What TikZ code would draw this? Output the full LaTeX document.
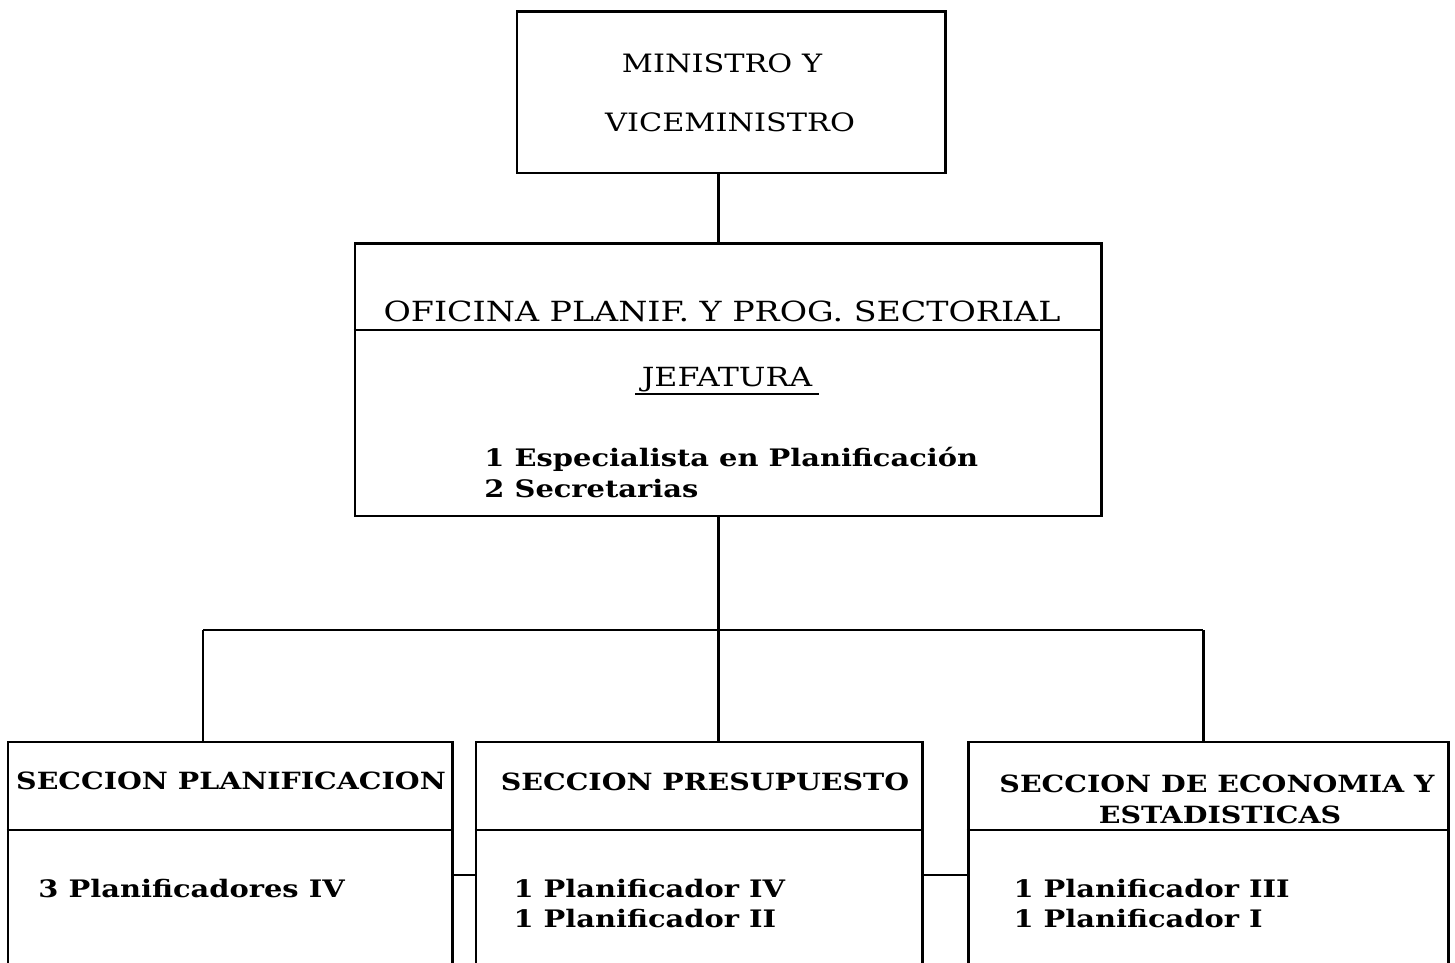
\documentclass[tikz,border=0pt]{standalone}
\usepackage{fontspec}
\setmainfont{DejaVu Serif}[FakeStretch=1.2]
\usepackage{tikz}

\begin{document}
\begin{tikzpicture}[x=0.2mm,y=-0.2mm,line width=1.7pt,
    box/.style={draw,rectangle,inner sep=0pt},
    hdr/.style={anchor=base,inner sep=0pt,font=\fontsize{15.8pt}{19pt}\selectfont},
    shdr/.style={anchor=base,inner sep=0pt,font=\bfseries\fontsize{13.5pt}{17pt}\selectfont},
    txt/.style={anchor=base west,inner sep=0pt,font=\bfseries\fontsize{13.7pt}{16pt}\selectfont}]
        \useasboundingbox (0,0) rectangle (1455,963);
        \clip (0,0) rectangle (1455,963);

        \node[box,minimum width=85.6mm,minimum height=32.2mm](ministro)at(731,92.5){};
        \node[hdr,font=\fontsize{14.4pt}{17pt}\selectfont](min1)at(722,73){MINISTRO Y};
        \node[hdr,font=\fontsize{14.4pt}{17pt}\selectfont](min2)at(730,132){VICEMINISTRO};

        \node[box,minimum width=149.2mm,minimum height=54.4mm](oficina)at(728,380){};
        \coordinate(cutA)at(0,330);
        \draw(oficina.west|-cutA)--(oficina.east|-cutA);
        \node[hdr](ofi)at(722,322){OFICINA PLANIF. Y PROG. SECTORIAL};
        \node[hdr,font=\fontsize{15pt}{18pt}\selectfont](jef)at(727,387){JEFATURA};
        \draw([xshift=-1mm,yshift=-1.4mm]jef.base west)--([xshift=1mm,yshift=-1.4mm]jef.base east);
        \node[txt](esp)at(483,467){1 Especialista en Planificación};
        \node[txt](sec)at(483,498){2 Secretarias};

        \coordinate(bus)at(718,630);
        \coordinate(busL)at(203,630);
        \coordinate(busR)at(1203,630);
        \draw(ministro.south-|bus)--(oficina.north-|bus);
        \draw(oficina.south-|bus)--(bus);
        \draw(busL)--(busR);

        \node[box,minimum width=88.8mm,minimum height=51.6mm](secplan)at(230,871){};
        \node[box,minimum width=89.2mm,minimum height=51.6mm](secpres)at(699,871){};
        \node[box,minimum width=96mm,minimum height=51.6mm](sececo)at(1208,871){};

        \draw(busL)--(busL|-secplan.north);
        \draw(bus)--(bus|-secpres.north);
        \draw(busR)--(busR|-sececo.north);

        \coordinate(cutB)at(0,830);
        \draw(secplan.west|-cutB)--(secplan.east|-cutB);
        \draw(secpres.west|-cutB)--(secpres.east|-cutB);
        \draw(sececo.west|-cutB)--(sececo.east|-cutB);

        \coordinate(link)at(0,875);
        \draw(secplan.east|-link)--(secpres.west|-link);
        \draw(secpres.east|-link)--(sececo.west|-link);

        \node[shdr](plan)at(231,789){SECCION PLANIFICACION};
        \node[shdr](pres)at(705,790){SECCION PRESUPUESTO};
        \node[shdr](eco1)at(1217,792){SECCION DE ECONOMIA Y};
        \node[shdr](eco2)at(1220,823){ESTADISTICAS};

        \node[txt](pl1)at(37,897){3 Planificadores IV};
        \node[txt](pr1)at(512,897){1 Planificador IV};
        \node[txt](pr2)at(512,927){1 Planificador II};
        \node[txt](ec1)at(1012,897){1 Planificador III};
        \node[txt](ec2)at(1012,927){1 Planificador I};
    \end{tikzpicture}
\end{document}
